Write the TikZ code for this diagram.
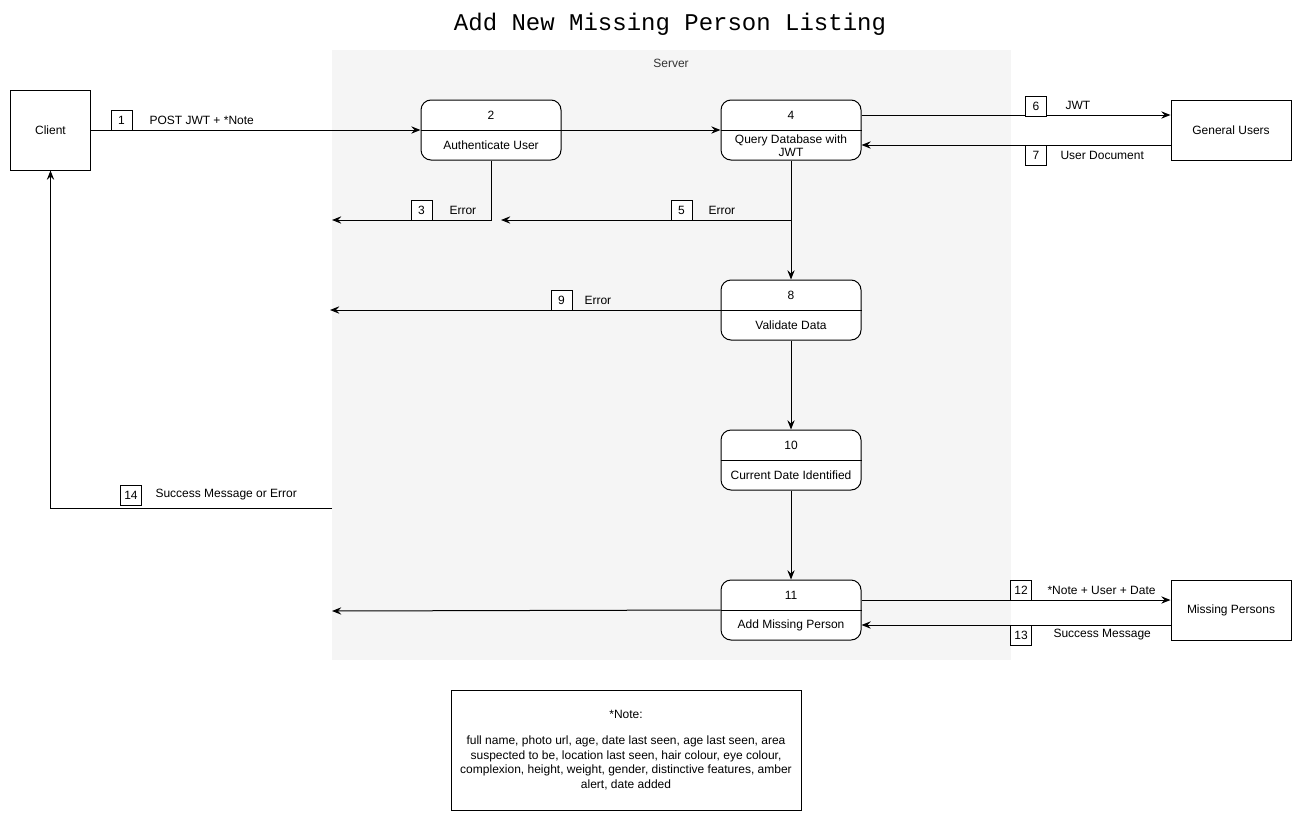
\documentclass[tikz,border=0pt]{standalone}
\usepackage{fontspec}
\setmainfont{Liberation Sans}
\newfontfamily\monof{Liberation Mono}
\usetikzlibrary{arrows.meta,calc}
\definecolor{srvgray}{HTML}{F5F5F5}
\definecolor{srvtext}{HTML}{333333}
\begin{document}
\begin{tikzpicture}[x=0.75pt,y=-0.75pt, line width=0.75pt,
  font=\fontsize{9}{10.8}\selectfont,
  arr/.style={-{Stealth[length=7pt,width=5.5pt,inset=2.5pt]}},
  proc/.style={draw, rounded corners=7.5pt, fill=white, minimum width=105pt, minimum height=45pt, inner sep=0pt},
  ent/.style={draw, fill=white, minimum width=90pt, minimum height=45pt, inner sep=0pt},
  numbox/.style={draw, fill=white, minimum width=15.75pt, minimum height=15pt, inner sep=0pt},
  lbl/.style={anchor=west, inner sep=0pt}]
\useasboundingbox (0,0) rectangle (1302,821);
% title
\node (title) at (670,24) {\monof\fontsize{18}{20}\selectfont Add New Missing Person Listing};
% server region
\fill[srvgray] (332,50) rectangle (1011,660);
\node[text=srvtext] (srv) at (671,63) {Server};
% entities
\node[draw, fill=white, minimum width=60pt, minimum height=60pt, inner sep=0pt] (client) at (50.5,130) {Client};
\node[ent] (gen) at (1231,130) {General Users};
\node[ent] (mis) at (1231,610) {Missing Persons};
% processes
\node[proc] (n2) at (491,130) {};
\node[proc] (n4) at (791,130) {};
\node[proc] (n8) at (791,310) {};
\node[proc] (n10) at (791,460) {};
\node[proc] (n11) at (791,610) {};
\foreach \n in {n2,n4,n8,n10,n11} \draw (\n.west) -- (\n.east);
\node (t2a) at ($(n2.center)+(0,-15)$) {2};
\node (t2b) at ($(n2.center)+(0,15)$) {Authenticate User};
\node (t4a) at ($(n4.center)+(0,-15)$) {4};
\node[align=center, font=\fontsize{9}{9.75}\selectfont] (t4b) at ($(n4.center)+(0,16)$) {Query Database with\\JWT};
\node (t8a) at ($(n8.center)+(0,-15)$) {8};
\node (t8b) at ($(n8.center)+(0,15)$) {Validate Data};
\node (t10a) at ($(n10.center)+(0,-15)$) {10};
\node (t10b) at ($(n10.center)+(0,15)$) {Current Date Identified};
\node (t11a) at ($(n11.center)+(0,-15)$) {11};
\node (t11b) at ($(n11.center)+(0,15)$) {Add Missing Person};
% free-end coordinates
\coordinate (e3) at (332,220);
\coordinate (e9) at (330,310);
\coordinate (e11) at (332,611);
\coordinate (s14) at (332,508);
% connectors
\draw[arr] (client.east) -- (n2.west);
\draw[arr] (n2.east) -- (n4.west);
\draw[arr] ($(n4.east)+(0,-15)$) -- ($(gen.west)+(0,-15)$);
\draw[arr] ($(gen.west)+(0,15)$) -- ($(n4.east)+(0,15)$);
\draw[arr] (n2.south) -- (491,220) -- (e3);
\draw[arr] (n4.south) -- (n8.north);
\draw[arr] (791,220) -- (501,220);
\draw[arr] (n8.west) -- (e9);
\draw[arr] (n8.south) -- (n10.north);
\draw[arr] (n10.south) -- (n11.north);
\draw[arr] (n11.west) -- (e11);
\draw[arr] ($(n11.east)+(0,-10)$) -- ($(mis.west)+(0,-10)$);
\draw[arr] ($(mis.west)+(0,15)$) -- ($(n11.east)+(0,15)$);
\draw[arr] (s14) -- (50.5,508) -- (client.south);
% number boxes and labels
\node[numbox] (b1) at (121.5,120) {1};
\node[lbl] (l1) at (149,120) {POST JWT + *Note};
\node[numbox] (b3) at (421.5,210) {3};
\node[lbl] (l3) at (449,210) {Error};
\node[numbox] (b5) at (681.5,210) {5};
\node[lbl] (l5) at (708,210) {Error};
\node[numbox] (b6) at (1036,106) {6};
\node[lbl] (l6) at (1065,105) {JWT};
\node[numbox] (b7) at (1036,155.5) {7};
\node[lbl] (l7) at (1060,155) {User Document};
\node[numbox] (b9) at (561.5,300) {9};
\node[lbl] (l9) at (584,300) {Error};
\node[numbox] (b12) at (1021,590) {12};
\node[lbl] (l12) at (1047,590) {*Note + User + Date};
\node[numbox] (b13) at (1021,635) {13};
\node[lbl] (l13) at (1053,635) {Success Message};
\node[numbox] (b14) at (131,495) {14};
\node[lbl] (l14) at (155,495) {Success Message or Error};
% note
\node[draw, fill=white, minimum width=262.5pt, minimum height=90pt, inner sep=0pt] (note) at (626,750) {};
\node[align=center, font=\fontsize{9}{10.9}\selectfont] (notetext) at (note.center) {*Note:\\[8.5pt]full name, photo url, age, date last seen, age last seen, area\\suspected to be, location last seen, hair colour, eye colour,\\complexion, height, weight, gender, distinctive features, amber\\alert, date added};
\end{tikzpicture}
\end{document}
